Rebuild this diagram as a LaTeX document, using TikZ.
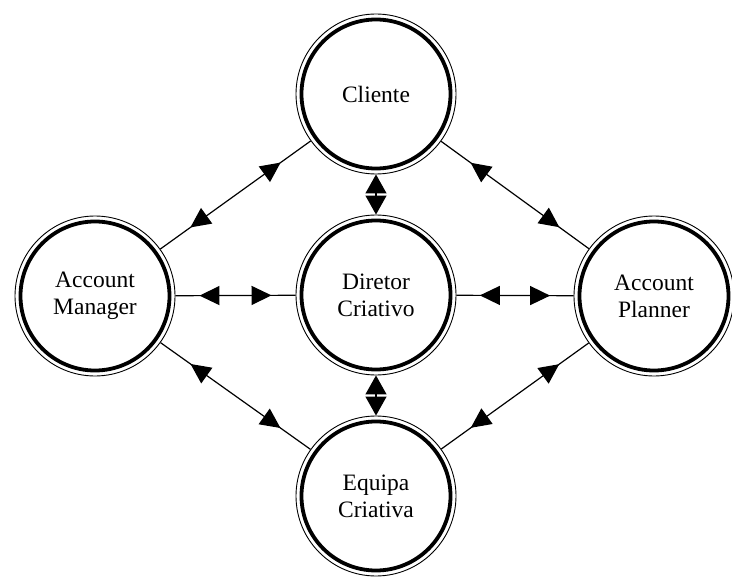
\documentclass[tikz,border=0pt]{standalone}
\usepackage{fontspec}
\setmainfont{Liberation Serif}
\usetikzlibrary{arrows.meta,decorations.markings}

\begin{document}
\begin{tikzpicture}[x=1pt,y=-1pt,
  papel/.style={circle,draw,line width=0.9pt,minimum size=160pt,inner sep=0pt,
    align=center,font=\fontsize{23.5}{27}\selectfont,
    path picture={\draw[line width=3.8pt]
      (path picture bounding box.center) circle (74.5pt);}},
  ligacao/.style={line width=1.2pt,postaction={decorate},
    decoration={markings,
      mark=at position 0.2 with {\arrowreversed{Triangle[length=20pt,width=19pt]}},
      mark=at position 0.8 with {\arrow{Triangle[length=20pt,width=19pt]}}}},
  curta/.style={line width=1.2pt,
    {Triangle[length=19pt,width=21pt]}-{Triangle[length=19pt,width=21pt]}}]

% Frame
\useasboundingbox (0,0) rectangle (732,578);

% Roles
\node[papel] (cliente) at (376,94)  {Cliente};
\node[papel] (diretor) at (376,295) {Diretor\\Criativo};
\node[papel] (equipa)  at (376,496) {Equipa\\Criativa};
\node[papel] (manager) at (95,296)  {Account\\Manager};
\node[papel] (planner) at (654,296) {Account\\Planner};

% Links around the centre
\draw[ligacao] (manager) -- (cliente);
\draw[ligacao] (cliente) -- (planner);
\draw[ligacao] (manager) -- (equipa);
\draw[ligacao] (equipa) -- (planner);

% Links to the creative director
\draw[ligacao] (manager) -- (diretor);
\draw[ligacao] (diretor) -- (planner);
\draw[curta] (cliente) -- (diretor);
\draw[curta] (diretor) -- (equipa);

\end{tikzpicture}
\end{document}
